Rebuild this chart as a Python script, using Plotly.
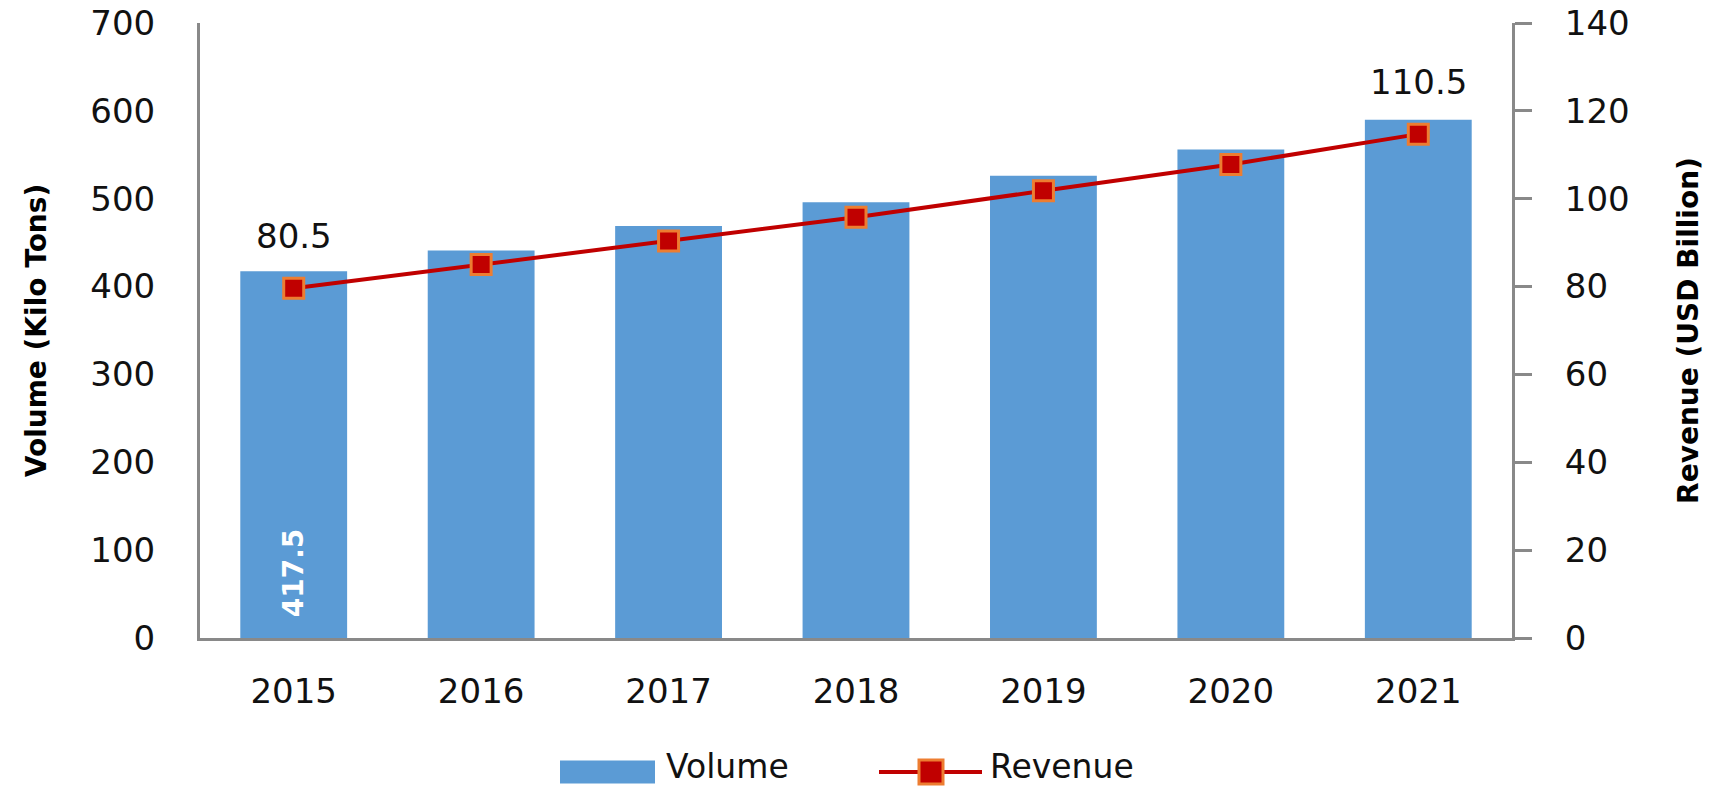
import plotly.graph_objects as go

years = ["2015", "2016", "2017", "2018", "2019", "2020", "2021"]
volume = [417.5, 441, 469, 496, 526, 556, 590]
revenue = [79.6, 85.0, 90.4, 95.8, 101.8, 107.8, 114.7]
revenue_labels = ["80.5", "", "", "", "", "", "110.5"]
volume_labels = ["417.5", "", "", "", "", "", ""]
left_ticks = [0, 100, 200, 300, 400, 500, 600, 700]
right_ticks = [0, 20, 40, 60, 80, 100, 120, 140]

W, H = 1716, 788
L, R, T, B = 200, 204, 23, 150
FONT = "DejaVu Sans"
FS = 34
BAR_C = "#5B9BD5"
LINE_C = "#C00000"
EDGE_C = "#ED7D31"
AXIS_C = "#898989"
TXT_C = "#111111"

fig = go.Figure()
fig.add_trace(go.Bar(x=years, y=volume, name="Volume", width=0.57,
                     marker=dict(color=BAR_C, line=dict(width=0)), showlegend=False))
fig.add_trace(go.Scatter(x=years, y=revenue, name="Revenue", yaxis="y2",
                         mode="lines+markers",
                         line=dict(color=LINE_C, width=4),
                         marker=dict(symbol="square", size=20, color=LINE_C,
                                     line=dict(color=EDGE_C, width=3)),
                         showlegend=False))

ann = []
for i, (val, lab) in enumerate(zip(revenue, revenue_labels)):
    if lab:
        ann.append(dict(x=i, y=val, xref="x", yref="y2", text=lab, showarrow=False,
                        yshift=52, font=dict(family=FONT, size=FS, color=TXT_C)))
for i, lab in enumerate(volume_labels):
    if lab:
        ann.append(dict(x=i, y=0, xref="x", yref="y", text=lab, showarrow=False,
                        textangle=-90, yanchor="bottom", yshift=19,
                        font=dict(family=FONT, size=28, color="white", weight="bold")))

# manual legend (pixel layout helpers)
pw, ph = W - L - R, H - T - B
def px(xp):
    return (xp - L) / pw
def py(yp):
    return (H - B - yp) / ph

leg_y = 772
shapes = [
    dict(type="rect", xref="paper", yref="paper", x0=px(560), x1=px(655),
         y0=py(leg_y + 11.5), y1=py(leg_y - 11.5), fillcolor=BAR_C, line=dict(width=0)),
    dict(type="line", xref="paper", yref="paper", x0=px(879), x1=px(982),
         y0=py(leg_y), y1=py(leg_y), line=dict(color=LINE_C, width=4)),
    dict(type="rect", xref="paper", yref="paper", x0=px(919), x1=px(943),
         y0=py(leg_y + 12), y1=py(leg_y - 12), fillcolor=LINE_C,
         line=dict(color=EDGE_C, width=3)),
]
ann.append(dict(xref="paper", yref="paper", x=px(664), y=py(787.5), xanchor="left",
                yanchor="bottom", text="Volume", showarrow=False,
                font=dict(family=FONT, size=33, color=TXT_C)))
ann.append(dict(xref="paper", yref="paper", x=px(988), y=py(787.5), xanchor="left",
                yanchor="bottom", text="Revenue", showarrow=False,
                font=dict(family=FONT, size=33, color=TXT_C)))

fig.update_layout(
    template="none",
    width=W, height=H,
    margin=dict(l=L, r=R, t=T, b=B, pad=0, autoexpand=False),
    plot_bgcolor="white", paper_bgcolor="white",
    font=dict(family=FONT, size=FS, color=TXT_C),
    xaxis=dict(type="category", range=[-0.5, 6.5], showline=True, linecolor=AXIS_C,
               linewidth=3, showgrid=False, ticks="", ticklabelstandoff=21,
               automargin=False,
               tickfont=dict(family=FONT, size=FS, color=TXT_C), zeroline=False),
    yaxis=dict(range=[0, 700], tickvals=left_ticks, showline=True, linecolor=AXIS_C,
               linewidth=3, showgrid=False, ticks="", zeroline=False,
               ticklabelstandoff=35, automargin=False,
               tickfont=dict(family=FONT, size=FS, color=TXT_C),
               title=dict(text="Volume (Kilo Tons)", standoff=36,
                          font=dict(family=FONT, size=28, color="#000", weight="bold"))),
    yaxis2=dict(range=[0, 140], tickvals=right_ticks, overlaying="y", side="right",
                showline=True, linecolor=AXIS_C, linewidth=3, showgrid=False,
                ticks="outside", ticklen=17, tickwidth=3, tickcolor=AXIS_C,
                zeroline=False, ticklabelstandoff=26, automargin=False,
                tickfont=dict(family=FONT, size=FS, color=TXT_C),
                title=dict(text="Revenue (USD Billion)", standoff=50,
                           font=dict(family=FONT, size=28, color="#000", weight="bold"))),
    annotations=ann,
    shapes=shapes,
    showlegend=False,
)

fig.write_html("out.html", config={"displayModeBar": False},
               post_script="document.body.style.margin='0';document.body.style.overflow='hidden';")
